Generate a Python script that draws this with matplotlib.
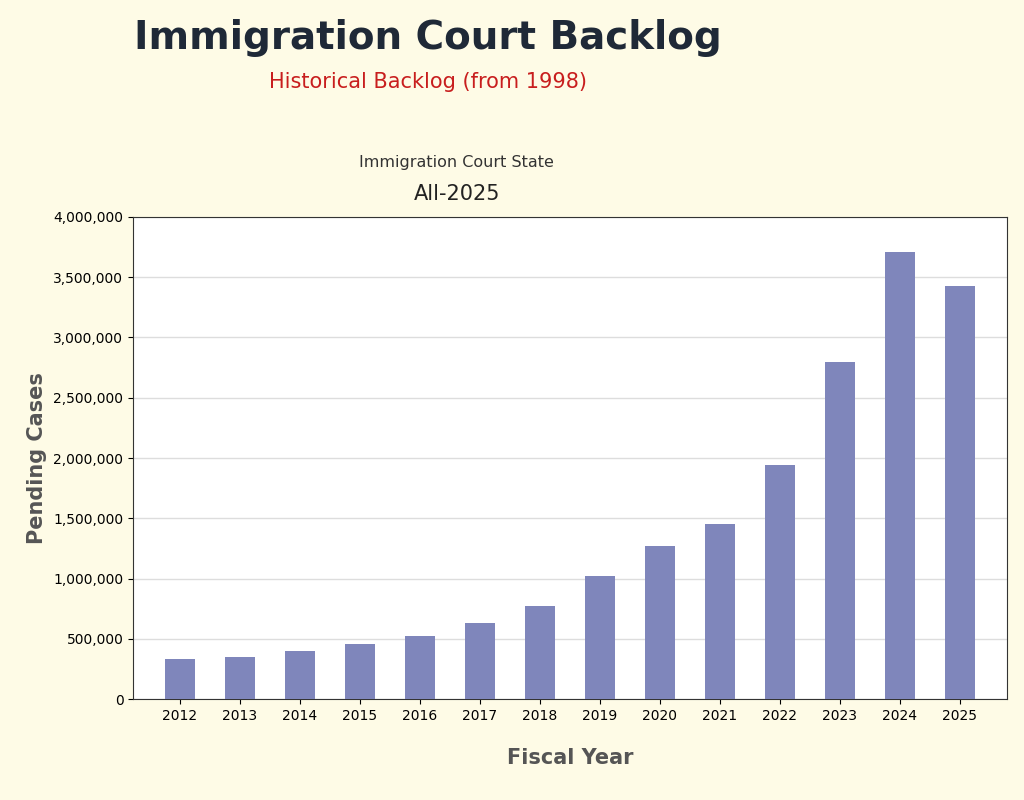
import matplotlib.pyplot as plt
from matplotlib.ticker import FuncFormatter

years = ['2012', '2013', '2014', '2015', '2016', '2017', '2018',
         '2019', '2020', '2021', '2022', '2023', '2024', '2025']
pending = [332000, 349000, 398000, 456000, 523000, 631000, 772000,
           1021000, 1270000, 1452000, 1942000, 2797000, 3710000, 3427000]

bg = '#fefbe6'
fig = plt.figure(figsize=(10.24, 8), dpi=100, facecolor=bg)
ax = fig.add_axes([0.130, 0.126, 0.853, 0.603])
ax.set_facecolor('white')

x = range(len(years))
ax.bar(x, pending, width=0.5, color='#7f86bb', zorder=3)
ax.set_xticks(list(x))
ax.set_xticklabels(years, fontsize=10)
ax.set_xlim(-0.78, 13.78)
ax.set_ylim(0, 4000000)
ax.set_yticks(range(0, 4000001, 500000))
ax.yaxis.set_major_formatter(FuncFormatter(lambda v, p: f'{int(v):,}'))
ax.tick_params(axis='y', labelsize=10)
ax.grid(axis='y', color='#dddddd', linewidth=1, zorder=0)
for s in ax.spines.values():
    s.set_color('#333333')

ax.set_xlabel('Fiscal Year', fontsize=15, fontweight='bold', color='#555555', labelpad=18)
fig.text(0.036, 0.428, 'Pending Cases', rotation=90, fontsize=15, fontweight='bold',
         color='#555555', ha='center', va='center')

fig.text(0.418, 0.952, 'Immigration Court Backlog', fontsize=28, fontweight='bold',
         color='#1f2937', ha='center', va='center')
fig.text(0.418, 0.897, 'Historical Backlog (from 1998)', fontsize=15,
         color='#c81e1e', ha='center', va='center')
fig.text(0.446, 0.797, 'Immigration Court State', fontsize=11.5,
         color='#333333', ha='center', va='center')
fig.text(0.446, 0.758, 'All-2025', fontsize=15,
         color='#222222', ha='center', va='center')

fig.savefig('out.png', dpi=100, facecolor=bg)
